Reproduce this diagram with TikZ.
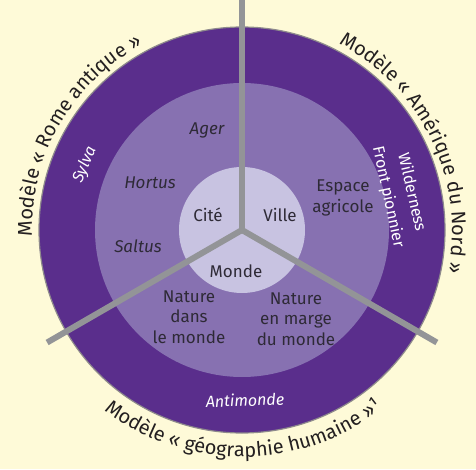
\documentclass[tikz,border=0pt]{standalone}
\usepackage{fontspec}
\setmainfont{Fira Sans}
\usetikzlibrary{decorations.text,calc}
\definecolor{bgc}{HTML}{FEFAD8}
\definecolor{ringdark}{HTML}{5A2E8C}
\definecolor{ringmid}{HTML}{8771B1}
\definecolor{ringin}{HTML}{C8C3E1}
\definecolor{spokec}{HTML}{939497}
\definecolor{edgec}{HTML}{8E8A8C}
\definecolor{txt}{HTML}{2E2A36}
\definecolor{outtxt}{HTML}{231F20}
\begin{document}
\begin{tikzpicture}[x=1pt,y=1pt,
  lab/.style={font=\fontsize{17}{20.5}\selectfont, text=txt, align=center, inner sep=0pt},
  labit/.style={lab, font=\fontsize{17}{20.5}\selectfont\itshape},
  ringlab/.style={font=\fontsize{16}{18}\selectfont, text=white, inner sep=0pt},
  ringit/.style={ringlab, font=\fontsize{16}{18}\selectfont\itshape},
  spoke/.style={draw=spokec, line width=6pt},
  curvetext/.style={decorate, decoration={text along path, text align=center, text={|\color{outtxt}\fontsize{20}{24}\selectfont|#1}}}
]
\fill[bgc] (0,0) rectangle (476,469);
\useasboundingbox (0,0) rectangle (476,469);
\coordinate (c) at (242,239);
% rings
\fill[ringdark, draw=edgec, line width=1.2pt] (c) circle[radius=203];
\fill[ringmid] (c) circle[radius=147];
\fill[ringin] (c) circle[radius=63];
% spokes
\coordinate (t) at (242,469);
\coordinate (l) at ($(c)+(210:225)$);
\coordinate (r) at ($(c)+(330:225)$);
\draw[spoke] (c) -- (t);
\draw[spoke] (c) -- (l);
\draw[spoke] (c) -- (r);
\fill[spokec] (c) circle[radius=3];
% inner labels
\node[lab] (cite) at (208,254) {Cité};
\node[lab] (ville) at (280,254) {Ville};
\node[lab] (monde) at (236,198) {Monde};
\node[labit] (ager) at (207,339) {Ager};
\node[labit] (hortus) at (150,286) {Hortus};
\node[labit] (saltus) at (138,223) {Saltus};
\node[lab] (espace) at (343,271) {Espace\\agricole};
\node[lab] (dans) at (189,152) {Nature\\dans\\le monde};
\node[lab] (marge) at (296,150) {Nature\\en marge\\du monde};
% ring labels
\node[ringit, rotate=67] (sylva) at (85,304) {Sylva};
\node[ringlab, rotate=-77] (wild) at (413,277) {Wilderness};
\node[ringlab, rotate=-78] (front) at (388,272) {Front pionnier};
\node[ringit, rotate=2] (anti) at (245,69) {Antimonde};
% outer curved titles
\path[curvetext={Modèle « Rome antique »}] ($(c)+(195:210)$) arc[start angle=195, end angle=105, radius=210];
\path[curvetext={Modèle « Amérique du Nord »}] ($(c)+(70:210)$) arc[start angle=70, end angle=-19, radius=210];
\path[curvetext={Modèle « géographie humaine »¹}] ($(c)+(225:227)$) arc[start angle=225, end angle=316, radius=227];
\end{tikzpicture}
\end{document}
